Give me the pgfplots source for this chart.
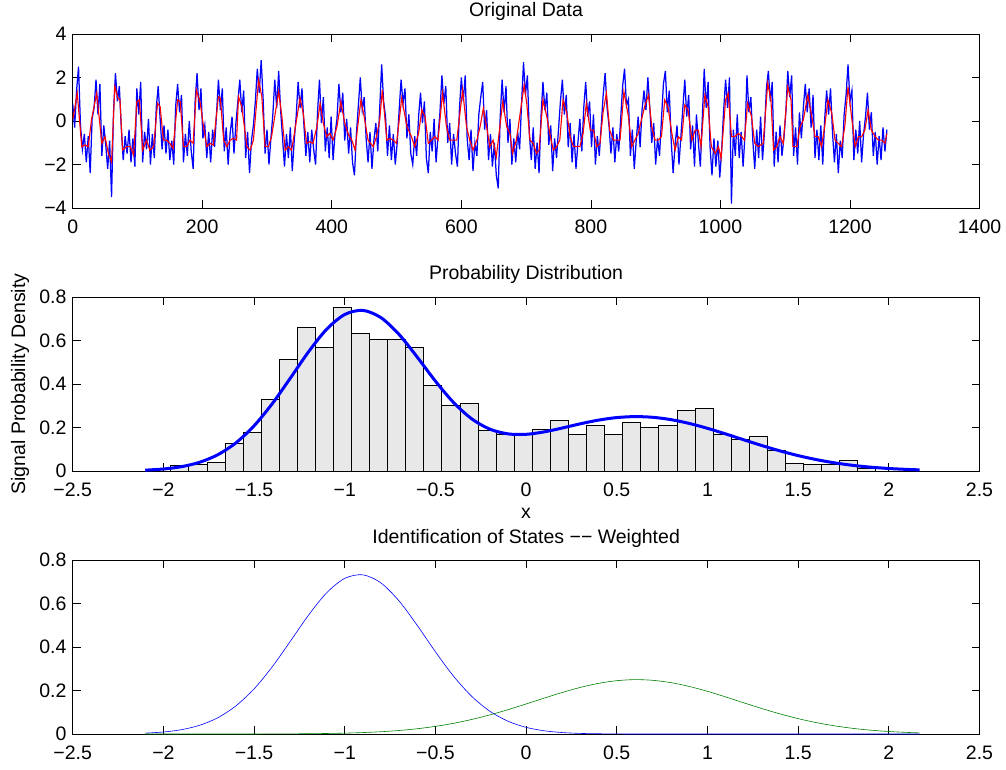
\documentclass[border=0pt]{standalone}
\usepackage{fontspec}
\setmainfont{Liberation Sans}
\usepackage{pgfplots}
\pgfplotsset{compat=1.18}
\definecolor{mgreen}{rgb}{0,0.5,0}
\definecolor{hfill}{HTML}{E8E8E8}
\newcommand{\mf}{\fontsize{19.5}{23}\selectfont}
\pgfplotsset{
  every axis title shift=0pt,
  mstyle/.style={
    scale only axis, width=906.8pt, height=174pt,
    anchor=south west,
    axis line style={line width=0.8pt},
    every tick/.style={black, line width=0.7pt},
    major tick length=8pt,
    tick align=inside, tick pos=both,
    tick label style={font=\mf},
    xticklabel style={anchor=base, yshift=-25.5pt, inner sep=0pt},
    yticklabel style={anchor=east, xshift=-6pt, inner sep=0pt},
    title style={font=\mf, at={(0.5,1)}, anchor=base, yshift=17pt, inner sep=0pt},
    label style={font=\mf},
  }
}
\begin{document}
\begin{tikzpicture}
\useasboundingbox (0,0) rectangle (1006pt,769pt);
% ---------------- top ----------------
\begin{axis}[mstyle, at={(72.7pt,561pt)},
  xmin=0, xmax=1400, ymin=-4, ymax=4,
  xtick={0,200,400,600,800,1000,1200,1400},
  xticklabels={0,200,400,600,800,1000,1200,1400},
  ytick={-4,-2,0,2,4}, yticklabels={−4,−2,0,2,4},
  title={Original Data}]
\addplot[blue, line width=1.25pt] coordinates {
(0,0.8)(3,-0.3)(6,1.4)(9,2.5)(12,-0.2)(15,-1.3)(18,-0.6)(21,-1.9)(24,-0.7)(27,-2.4)
(30,0.1)(33,0.6)(36,1.9)(39,0.3)(42,1.7)(45,-1.6)(48,-0.2)(51,-1.1)(54,-2.2)(57,-0.9)
(60,-3.5)(63,0.4)(66,2.2)(69,0.9)(72,1.6)(75,-0.3)(78,-1.8)(81,-0.7)(84,-1.5)(87,-0.4)
(90,-1.9)(93,-0.8)(96,-2.1)(99,1.5)(102,0.3)(105,1.8)(108,-1.9)(111,-0.5)(114,-1.3)(117,0.1)
(120,-2.0)(123,-0.6)(126,-1.7)(129,0.6)(132,1.6)(135,0.1)(138,-1.3)(141,-0.2)(144,-1.5)(147,-0.4)
(150,-1.8)(153,-0.9)(156,-2.0)(159,0.7)(162,1.7)(165,0.4)(168,1.2)(171,-1.9)(174,-0.6)(177,-1.6)
(180,0.0)(183,-1.4)(186,-2.2)(189,0.9)(192,2.2)(195,0.5)(198,1.5)(201,-0.8)(204,-0.2)(207,-1.7)
(210,-0.5)(213,-1.9)(216,-0.4)(219,-1.2)(222,0.3)(225,1.9)(228,0.5)(231,1.5)(234,-1.4)(237,-0.3)
(240,-2.0)(243,-0.6)(246,0.2)(249,-1.5)(252,-0.1)(255,0.9)(258,1.9)(261,0.4)(264,1.4)(267,-1.7)
(270,-0.5)(273,-2.4)(276,-0.9)(279,-0.2)(282,0.9)(285,2.4)(288,1.3)(291,2.8)(294,1.0)(297,-1.5)
(300,-0.4)(303,-2.0)(306,-0.8)(309,0.3)(312,1.9)(315,0.6)(318,2.3)(321,0.5)(324,-0.8)(327,-2.1)
(330,-0.6)(333,-1.7)(336,-0.3)(339,-2.3)(342,-0.9)(345,0.2)(348,1.8)(351,0.6)(354,1.5)(357,-0.2)
(360,-1.6)(363,-0.5)(366,-1.9)(369,-0.4)(372,-1.3)(375,-2.0)(378,0.4)(381,1.9)(384,-0.1)(387,1.1)
(390,-1.4)(393,-0.3)(396,-1.7)(399,0.2)(402,-1.8)(405,-0.6)(408,0.1)(411,1.7)(414,0.4)(417,1.3)
(420,-0.9)(423,0.1)(426,-1.5)(429,-0.3)(432,-1.9)(435,-2.5)(438,-0.6)(441,0.7)(444,2.0)(447,0.5)
(450,1.1)(453,-0.8)(456,-1.9)(459,-0.5)(462,-2.2)(465,-0.9)(468,-0.1)(471,-1.4)(474,0.6)(477,2.6)
(480,0.9)(483,0.2)(486,-1.6)(489,-0.2)(492,-1.8)(495,-0.6)(498,-2.0)(501,-1.0)(504,0.5)(507,1.9)
(510,0.8)(513,1.5)(516,-0.8)(519,0.3)(522,-1.5)(525,-2.0)(528,-0.7)(531,-1.6)(534,0.2)(537,1.3)
(540,-0.1)(543,0.9)(546,-1.7)(549,-2.4)(552,-0.5)(555,-1.4)(558,0.1)(561,-1.9)(564,-0.7)(567,0.4)
(570,2.1)(573,0.8)(576,1.6)(579,-1.0)(582,-0.1)(585,-2.0)(588,-0.6)(591,-1.5)(594,-2.1)(597,0.5)
(600,2.0)(603,0.9)(606,2.1)(609,-0.8)(612,-1.8)(615,-0.4)(618,-2.3)(621,-1.0)(624,-1.6)(627,0.3)
(630,1.1)(633,1.8)(636,-0.4)(639,0.5)(642,-1.8)(645,-0.6)(648,-2.1)(651,-1.0)(654,-2.5)(657,-3.1)
(660,0.2)(663,1.9)(666,0.4)(669,1.6)(672,-1.0)(675,0.1)(678,-2.0)(681,-0.8)(684,-1.9)(687,-0.5)
(690,-1.3)(693,0.8)(696,2.7)(699,1.2)(702,2.1)(705,-0.6)(708,-1.8)(711,-0.3)(714,-2.2)(717,-1.0)
(720,-2.4)(723,0.2)(726,1.8)(729,0.5)(732,1.3)(735,-1.1)(738,-0.2)(741,-2.3)(744,-0.8)(747,-1.7)
(750,-0.4)(753,0.9)(756,1.9)(759,0.3)(762,1.2)(765,-1.2)(768,-0.1)(771,-1.9)(774,-0.6)(777,-2.2)
(780,-1.0)(783,0.1)(786,-1.4)(789,0.6)(792,1.8)(795,0.2)(798,0.9)(801,-1.2)(804,0.3)(807,-2.0)
(810,-0.7)(813,-1.6)(816,-0.2)(819,1.2)(822,2.2)(825,0.6)(828,-0.2)(831,-1.5)(834,-0.3)(837,-1.9)
(840,-0.6)(843,-1.4)(846,0.1)(849,1.6)(852,2.4)(855,0.7)(858,1.0)(861,-1.6)(864,-0.4)(867,-2.2)
(870,-0.9)(873,0.2)(876,-1.2)(879,0.5)(882,1.4)(885,0.5)(888,2.0)(891,0.6)(894,-1.0)(897,-0.1)
(900,-2.0)(903,-0.8)(906,-1.6)(909,0.1)(912,1.7)(915,2.3)(918,0.4)(921,1.4)(924,-0.9)(927,-2.4)
(930,-1.1)(933,-0.2)(936,-2.0)(939,-0.7)(942,0.6)(945,1.9)(948,0.2)(951,1.2)(954,-1.3)(957,-0.2)
(960,-2.1)(963,0.3)(966,-1.0)(969,-2.1)(972,0.1)(975,2.4)(978,0.6)(981,1.8)(984,-1.2)(987,-2.5)
(990,-0.8)(993,-2.1)(996,-0.9)(999,-2.6)(1002,-1.3)(1005,0.5)(1008,1.9)(1011,0.6)(1014,2.0)(1017,-3.8)
(1020,-0.4)(1023,-1.6)(1026,0.3)(1029,-1.7)(1032,-0.5)(1035,-2.1)(1038,-0.6)(1041,2.1)(1044,0.4)(1047,1.1)
(1050,-0.9)(1053,-2.2)(1056,-0.4)(1059,-1.7)(1062,0.2)(1065,-1.8)(1068,-0.5)(1071,1.5)(1074,2.3)(1077,0.9)
(1080,1.8)(1083,-2.1)(1086,-0.5)(1089,-1.9)(1092,-0.2)(1095,-1.6)(1098,-0.8)(1101,0.4)(1104,2.3)(1107,1.1)
(1110,2.1)(1113,-1.6)(1116,-0.3)(1119,-2.0)(1122,0.4)(1125,-0.8)(1128,0.6)(1131,1.7)(1134,0.4)(1137,1.5)
(1140,-0.3)(1143,1.2)(1146,-1.7)(1149,-0.4)(1152,-1.8)(1155,-0.2)(1158,-2.0)(1161,0.1)(1164,1.4)(1167,0.3)
(1170,1.5)(1173,-0.5)(1176,-1.9)(1179,-0.6)(1182,-2.4)(1185,-0.9)(1188,-1.7)(1191,0.3)(1194,1.2)(1197,2.6)
(1200,0.9)(1203,1.4)(1206,-1.8)(1209,-0.4)(1212,-1.5)(1215,0.0)(1218,-1.9)(1221,-0.6)(1224,0.2)(1227,1.3)
(1230,-0.4)(1233,0.4)(1236,-1.6)(1239,-0.5)(1242,-2.0)(1245,-0.7)(1248,-1.8)(1251,-0.3)(1254,-1.4)(1257,-0.4)
};
\addplot[red, line width=1.1pt] coordinates {
(0,0.10)(1,0.20)(7,1.28)(14,-1.18)(19,-1.10)(24,-1.18)(29,0.05)(37,1.28)(45,-1.03)(50,-0.72)
(55,-1.49)(60,-1.88)(65,1.58)(70,1.05)(73,0.97)(77,-1.34)(83,-1.18)(89,-1.18)(94,-1.57)(99,0.89)
(103,0.97)(108,-1.34)(114,-0.88)(119,-1.34)(125,-1.18)(131,0.81)(135,0.66)(140,-0.88)(145,-0.88)(150,-1.03)
(155,-1.26)(162,0.97)(166,0.89)(171,-1.18)(176,-1.18)(181,-0.88)(186,-1.03)(191,1.43)(197,0.81)(202,-0.26)
(207,-1.18)(212,-1.03)(217,-1.11)(225,1.12)(228,1.05)(233,-0.88)(238,-1.18)(243,-0.88)(248,-0.80)(253,-0.88)
(256,1.12)(261,0.66)(269,-1.18)(274,-1.34)(279,-0.88)(287,1.89)(292,1.12)(297,-1.18)(302,-1.18)(307,-0.72)
(318,1.35)(323,0.20)(328,-1.34)(333,-1.18)(338,-1.34)(343,-0.42)(351,1.05)(356,0.35)(361,-1.03)(366,-0.95)
(371,-1.03)(377,-0.26)(382,0.81)(387,-0.11)(392,-0.72)(397,-0.57)(402,-0.88)(408,-0.26)(414,0.89)(420,-0.11)
(426,-0.65)(431,-0.88)(436,-1.34)(440,-0.26)(445,0.97)(450,0.20)(456,-0.88)(464,-1.18)(469,-0.72)(474,0.05)
(478,1.43)(485,-0.88)(490,-0.80)(495,-0.88)(500,-1.03)(508,1.05)(516,-0.26)(523,-0.72)(528,-1.18)(534,-0.57)
(539,0.51)(544,0.20)(549,-1.03)(554,-0.88)(559,-0.72)(564,-0.88)(571,1.28)(577,-0.26)(582,-0.88)(588,-0.88)
(593,-0.88)(602,1.43)(608,-0.26)(613,-0.88)(618,-1.34)(624,-0.88)(629,-0.26)(634,0.58)(639,-0.26)(644,-1.18)
(649,-0.88)(654,-1.65)(664,0.89)(670,-0.26)(675,-0.57)(679,-1.49)(685,-0.88)(697,1.66)(701,0.81)(706,-0.88)
(711,-1.03)(716,-1.49)(720,-1.34)(726,0.97)(732,0.20)(737,-0.65)(742,-1.34)(747,-1.18)(752,-0.88)(757,0.97)
(763,0.35)(768,-0.72)(773,-1.18)(778,-1.18)(783,-1.18)(788,-0.57)(793,0.81)(799,-0.42)(804,-0.42)(809,-1.18)
(814,-1.03)(819,0.43)(824,1.28)(829,-0.42)(835,-0.88)(840,-0.88)(845,-0.88)(851,1.35)(858,0.20)(863,-1.18)
(868,-0.88)(873,-0.57)(883,0.66)(889,1.20)(894,-0.26)(899,-0.88)(904,-0.88)(909,-0.72)(914,0.97)(919,0.66)
(925,-0.57)(930,-1.34)(935,-0.72)(940,-0.88)(945,0.74)(950,0.51)(956,-0.88)(961,-0.42)(966,-0.42)(970,-1.18)
(976,1.20)(981,0.66)(986,-1.18)(992,-1.49)(997,-1.18)(1001,-1.72)(1008,0.97)(1012,1.28)(1017,-0.72)(1022,-0.72)
(1028,-0.57)(1033,-0.72)(1037,-0.88)(1042,0.81)(1048,0.20)(1053,-1.03)(1058,-1.18)(1066,-1.03)(1073,1.74)(1078,0.97)
(1082,-1.34)(1087,-1.18)(1092,-0.72)(1097,-1.03)(1104,1.58)(1109,0.97)(1112,-1.18)(1118,-1.18)(1123,-0.26)(1128,0.05)
(1135,1.20)(1141,0.20)(1146,-0.72)(1151,-0.72)(1156,-1.18)(1161,-0.26)(1166,0.97)(1172,0.35)(1177,-0.88)(1182,-1.03)
(1187,-1.18)(1192,-0.26)(1197,1.58)(1203,0.05)(1208,-1.18)(1213,-0.72)(1218,-0.72)(1223,-0.42)(1228,0.51)(1233,-0.42)
(1239,-0.72)(1244,-0.88)(1249,-0.88)(1254,-1.03)(1257,-0.57)
};
\end{axis}
% ---------------- middle ----------------
\begin{axis}[mstyle, at={(72.7pt,298pt)},
  xmin=-2.5, xmax=2.5, ymin=0, ymax=0.8,
  xtick={-2.5,-2,-1.5,-1,-0.5,0,0.5,1,1.5,2,2.5},
  xticklabels={−2.5,−2,−1.5,−1,−0.5,0,0.5,1,1.5,2,2.5},
  ytick={0,0.2,0.4,0.6,0.8}, yticklabels={0,0.2,0.4,0.6,0.8},
  title={Probability Distribution},
  xlabel={x}, ylabel={Signal Probability Density},
  xlabel style={at={(axis description cs:0.5,0)}, anchor=base, yshift=-47pt},
  ylabel style={at={(axis description cs:-0.0526,0.5)}, anchor=base}]
\addplot[ybar interval, fill=hfill, draw=black, line width=0.7pt] coordinates {
(-1.9596,0.024)(-1.8599,0.032)(-1.7603,0.040)(-1.6606,0.127)(-1.5609,0.176)
(-1.4612,0.329)(-1.3616,0.512)(-1.2619,0.662)(-1.1622,0.567)(-1.0626,0.751)
(-0.9629,0.632)(-0.8632,0.607)(-0.7636,0.607)(-0.6639,0.567)(-0.5642,0.393)
(-0.4646,0.304)(-0.3649,0.312)(-0.2652,0.185)(-0.1655,0.168)(-0.0659,0.168)
(0.0338,0.191)(0.1335,0.233)(0.2331,0.168)(0.3328,0.210)(0.4325,0.168)
(0.5322,0.223)(0.6318,0.200)(0.7315,0.210)(0.8312,0.278)(0.9308,0.289)
(1.0305,0.168)(1.1302,0.145)(1.2298,0.161)(1.3295,0.096)(1.4292,0.035)
(1.5288,0.032)(1.6285,0.032)(1.7282,0.049)(1.8279,0.010)(1.9275,0)
};
\addplot[blue, line width=3pt, smooth] coordinates {
(-2.1,0.0039)(-2.0,0.0092)(-1.9,0.0199)(-1.8,0.0401)(-1.7,0.0748)(-1.6,0.1294)
(-1.5,0.2076)(-1.4,0.3091)(-1.3,0.4270)(-1.2,0.5475)(-1.1,0.6515)(-1.0,0.7196)
(-0.9,0.7385)(-0.8,0.7049)(-0.7,0.6274)(-0.6,0.5233)(-0.5,0.4132)(-0.4,0.3149)
(-0.3,0.2400)(-0.2,0.1925)(-0.1,0.1707)(0,0.1687)(0.1,0.1799)(0.2,0.1978)
(0.3,0.2172)(0.4,0.2341)(0.5,0.2456)(0.6,0.2501)(0.7,0.2468)(0.8,0.2360)
(0.9,0.2186)(1.0,0.1962)(1.1,0.1705)(1.2,0.1435)(1.3,0.1170)(1.4,0.0924)
(1.5,0.0707)(1.6,0.0524)(1.7,0.0376)(1.8,0.0261)(1.9,0.0176)(2.0,0.0115)
(2.1,0.0073)(2.17,0.0052)
};
\end{axis}
% ---------------- bottom ----------------
\begin{axis}[mstyle, at={(72.7pt,35pt)},
  xmin=-2.5, xmax=2.5, ymin=0, ymax=0.8,
  xtick={-2.5,-2,-1.5,-1,-0.5,0,0.5,1,1.5,2,2.5},
  xticklabels={−2.5,−2,−1.5,−1,−0.5,0,0.5,1,1.5,2,2.5},
  ytick={0,0.2,0.4,0.6,0.8}, yticklabels={0,0.2,0.4,0.6,0.8},
  title={Identification of States −− Weighted}]
\addplot[blue, line width=0.6pt, smooth] coordinates {
(-2.1,0.0039)(-2.0,0.0092)(-1.9,0.0199)(-1.8,0.0401)(-1.7,0.0747)(-1.6,0.1293)
(-1.5,0.2074)(-1.4,0.3087)(-1.3,0.4263)(-1.2,0.5462)(-1.1,0.6491)(-1.0,0.7156)
(-0.9,0.7319)(-0.8,0.6944)(-0.7,0.6112)(-0.6,0.4991)(-0.5,0.3781)(-0.4,0.2657)
(-0.3,0.1732)(-0.2,0.1047)(-0.1,0.0588)(0,0.0306)(0.1,0.0148)(0.2,0.0066)
(0.3,0.0027)(0.4,0.0011)(0.5,0.0004)(0.6,0.0001)(0.8,0)(1.2,0)(1.6,0)(2.0,0)(2.17,0)
};
\addplot[mgreen, line width=0.6pt, smooth] coordinates {
(-2.1,0)(-1.8,0.0000)(-1.5,0.0002)(-1.4,0.0004)(-1.3,0.0007)(-1.2,0.0013)
(-1.1,0.0024)(-1.0,0.0040)(-0.9,0.0066)(-0.8,0.0105)(-0.7,0.0162)(-0.6,0.0242)
(-0.5,0.0351)(-0.4,0.0492)(-0.3,0.0668)(-0.2,0.0878)(-0.1,0.1119)(0,0.1381)
(0.1,0.1651)(0.2,0.1912)(0.3,0.2145)(0.4,0.2330)(0.5,0.2452)(0.6,0.2500)
(0.7,0.2468)(0.8,0.2360)(0.9,0.2186)(1.0,0.1962)(1.1,0.1705)(1.2,0.1435)
(1.3,0.1170)(1.4,0.0924)(1.5,0.0707)(1.6,0.0524)(1.7,0.0376)(1.8,0.0261)
(1.9,0.0176)(2.0,0.0115)(2.1,0.0073)(2.17,0.0052)
};
\end{axis}
\end{tikzpicture}
\end{document}
